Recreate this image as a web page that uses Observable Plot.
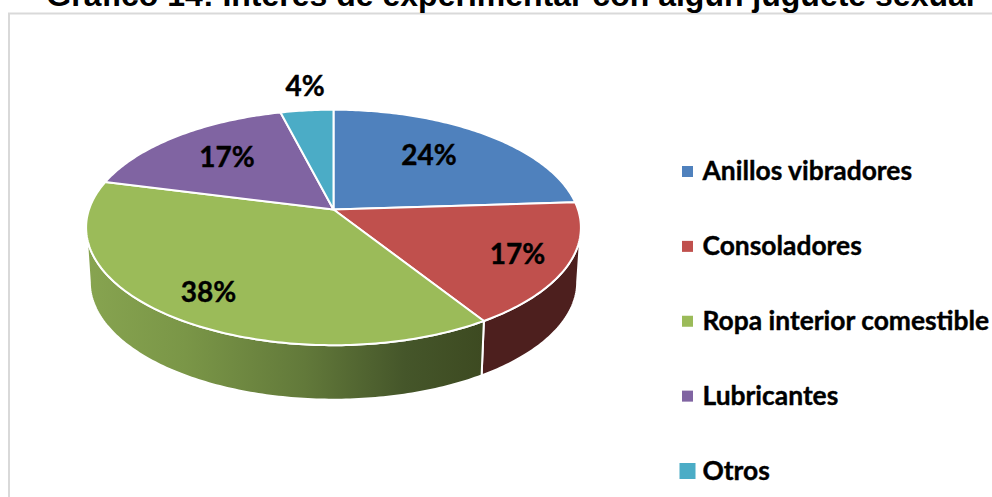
<!DOCTYPE html>
<html>
<head>
<meta charset="utf-8">
<script src="https://cdn.jsdelivr.net/npm/d3@7"></script>
<script src="https://cdn.jsdelivr.net/npm/@observablehq/plot@0.6"></script>
<style>
html,body{margin:0;padding:0;background:#fff;overflow:hidden}
svg{display:block}
</style>
</head>
<body>
<div id="chart"></div>
<script>
const title = "Gráfico 14: Interés de experimentar con algún juguete sexual";
const categories = ["Anillos vibradores", "Consoladores", "Ropa interior comestible", "Lubricantes", "Otros"];
const percents = [24, 17, 38, 17, 4];
const colors = ["#4f81bd", "#c0504d", "#9bbb59", "#8064a2", "#4bacc6"];
const labelX = [428.5, 517, 208, 226.5, 304.5];
const labelY = [155.5, 254.5, 292.5, 157.5, 87];
const swatchSizes = [11, 11, 11, 11, 16];

// Pie geometry (a circle seen in perspective)
const cx = 333, cy = 209, R = 244.5, H = 115, k = 0.1525, depth = 54.5, shrink = 0.985;
const project = (t, wall = false) => {
  const u = Math.sin(t), v = -Math.cos(t), d = 1 - k * v;
  const f = wall ? shrink : 1;
  return {x: cx + f * R * u / d, y: cy + H * v / d + (wall ? depth : 0)};
};
const arcPts = (a, b, wall = false) => {
  const n = Math.max(2, Math.ceil(Math.abs(b - a) / 0.015));
  return d3.range(n + 1).map(i => project(a + (b - a) * i / n, wall));
};
const arcs = d3.pie().sort(null)(percents);
const apex = {x: cx, y: cy};
const topPolys = arcs.map(s => [apex, ...arcPts(s.startAngle, s.endAngle), apex]);

// Visible side wall: front part between the two silhouette angles
const leftLimit = 2 * Math.PI - Math.acos(-k), rightLimit = Math.acos(-k);
const wallPoly = (a, b) => {
  const top = arcPts(a, b), bot = arcPts(a, b, true).reverse();
  return [...top, ...bot, top[0]];
};
const wallRed = wallPoly(rightLimit, arcs[1].endAngle);
const wallGreen = wallPoly(arcs[2].startAngle, leftLimit);

const defs = () => {
  const d = d3.create("svg:defs");
  const g = d.append("linearGradient").attr("id", "wallGreen");
  [[0, "#87a450"], [0.25, "#7a9647"], [0.55, "#62793a"], [0.8, "#45562a"], [1, "#3d4a21"]]
    .forEach(([o, c]) => g.append("stop").attr("offset", o).attr("stop-color", c));
  return d.node();
};

const poly = (pts, fill, strokeWidth = 2) =>
  Plot.line(pts, {x: "x", y: "y", fill, stroke: "#fff", strokeWidth, strokeLinejoin: "round"});

const rowY = d3.scalePoint().domain(categories).range([171.5, 471]);
const legendRows = categories.map((c, i) => ({c, color: colors[i], size: swatchSizes[i], y: rowY(c)}));
const swatchX = 687.5;
const font = "Lato, Carlito, Calibri, sans-serif";

const plot = Plot.plot({
  width: 992, height: 497,
  margin: 0,
  x: {domain: [0, 992], range: [0, 992], axis: null},
  y: {domain: [0, 497], range: [0, 497], axis: null},
  style: {background: "#fff"},
  marks: [
    defs,
    Plot.ruleX([8.5], {y1: 13, y2: 497, stroke: "#d9d9d9", strokeWidth: 2}),
    Plot.ruleY([13], {x1: 8, x2: 992, stroke: "#d9d9d9", strokeWidth: 2}),
    poly(wallRed, "#4d1f1e"),
    poly(wallGreen, "url(#wallGreen)"),
    ...topPolys.map((p, i) => poly(p, colors[i])),
    Plot.text(percents, {
      x: (d, i) => labelX[i], y: (d, i) => labelY[i],
      text: d => d + "%", fontFamily: font, fontWeight: 700, fontSize: 28,
      fill: "#000", stroke: "#000", strokeWidth: 0.4
    }),
    Plot.rect(legendRows, {
      x1: d => swatchX - d.size / 2, x2: d => swatchX + d.size / 2,
      y1: d => d.y - d.size / 2, y2: d => d.y + d.size / 2,
      fill: "color", inset: 0
    }),
    Plot.text(legendRows, {
      x: 702, y: "y", text: "c", textAnchor: "start",
      fontFamily: font, fontWeight: 700, fontSize: 26.4,
      fill: "#000", stroke: "#000", strokeWidth: 0.4
    }),
    Plot.text([title], {
      x: 510, y: 5.5, text: d => d, lineAnchor: "bottom",
      fontFamily: "'Liberation Sans', Arial, sans-serif", fontWeight: 700, fontSize: 32, fill: "#000"
    })
  ]
});
document.getElementById("chart").appendChild(plot);
</script>
</body>
</html>
